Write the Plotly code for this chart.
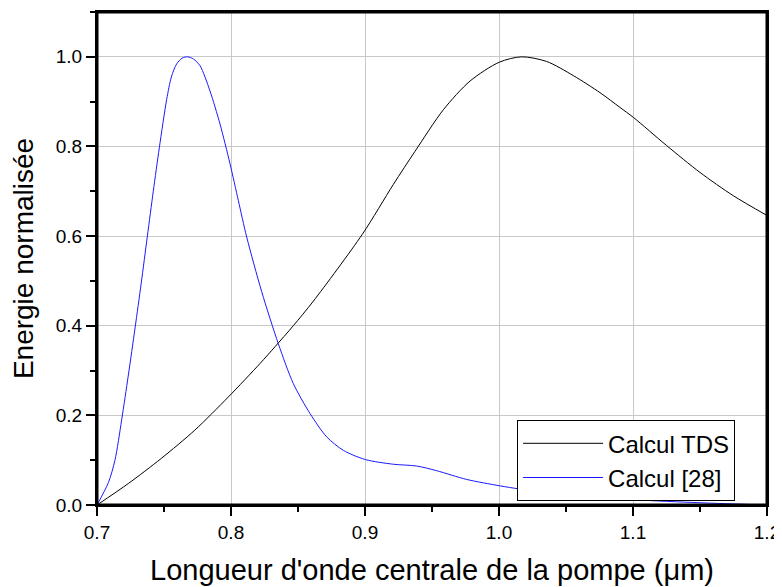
import plotly.graph_objects as go

# Calcul TDS (black)
tds_x = [0.700, 0.7234, 0.748, 0.773, 0.798, 0.8216, 0.8328, 0.8465, 0.8615, 0.8980,
         0.9211, 0.9373, 0.9585, 0.9784, 1.0002, 1.0169, 1.0356, 1.0555, 1.0754, 1.0903,
         1.1002, 1.1251, 1.150, 1.1749, 1.200]
tds_y = [0.0, 0.048, 0.104, 0.167, 0.241, 0.3155, 0.353, 0.400, 0.455, 0.604,
         0.715, 0.789, 0.882, 0.946, 0.988, 1.0, 0.9896, 0.958, 0.920, 0.887,
         0.865, 0.802, 0.742, 0.690, 0.646]

# Calcul [28] (blue)
ref_x = [0.700, 0.7085, 0.7134, 0.7184, 0.7234, 0.7284, 0.7330, 0.7376, 0.7420, 0.7465,
         0.7520, 0.7555, 0.7594, 0.7635, 0.7677, 0.7720, 0.7769, 0.7843, 0.7918, 0.7993,
         0.8055, 0.8117, 0.8229, 0.8353, 0.8465, 0.8590, 0.8714, 0.8838, 0.9002, 0.9211,
         0.9385, 0.9535, 0.9759, 1.0002, 1.0157, 1.050, 1.100, 1.150, 1.200]
ref_y = [0.0, 0.050, 0.100, 0.190, 0.290, 0.395, 0.495, 0.600, 0.700, 0.797,
         0.905, 0.955, 0.984, 0.997, 1.000, 0.995, 0.980, 0.924, 0.850, 0.761,
         0.679, 0.598, 0.476, 0.360, 0.271, 0.204, 0.152, 0.122, 0.1015, 0.091,
         0.087, 0.0765, 0.057, 0.043, 0.0356, 0.024, 0.012, 0.005, 0.0]

x_ticks = [0.7, 0.8, 0.9, 1.0, 1.1, 1.2]
x_labels = ["0.7", "0.8", "0.9", "1.0", "1.1", "1.2"]
y_ticks = [0.0, 0.2, 0.4, 0.6, 0.8, 1.0]
y_labels = ["0.0", "0.2", "0.4", "0.6", "0.8", "1.0"]

FONT = "Liberation Sans, Arial, sans-serif"
W, H = 774, 579  # page body has an 8px default margin

fig = go.Figure()
fig.add_trace(go.Scatter(x=tds_x, y=tds_y, mode="lines", name="Calcul TDS",
                         line=dict(color="black", width=1, shape="spline", smoothing=0.8)))
fig.add_trace(go.Scatter(x=ref_x, y=ref_y, mode="lines", name="Calcul [28]",
                         line=dict(color="#1a1aff", width=1, shape="spline", smoothing=0.8)))

minor_x = dict(ticklen=5, tickwidth=2, tickcolor="black", dtick=0.05, tick0=0.7, showgrid=False)
minor_y = dict(ticklen=5, tickwidth=2, tickcolor="black", dtick=0.1, tick0=0.0, showgrid=False)

common = dict(showline=True, linewidth=2, linecolor="black", mirror=True,
              ticks="outside", ticklen=9, tickwidth=2, tickcolor="black",
              showgrid=True, gridcolor="#c8c8c8", gridwidth=1, zeroline=False,
              automargin=False, tickmode="array",
              tickfont=dict(family=FONT, size=19, color="black"))

fig.update_layout(
    template="none",
    width=W, height=H,
    margin=dict(l=89, r=15, t=4, b=82),
    paper_bgcolor="white", plot_bgcolor="white",
    font=dict(family=FONT, color="black"),
    xaxis=dict(range=[0.7, 1.2], tickvals=x_ticks, ticktext=x_labels, domain=[0, 1],
               minor=dict(ticks="outside", **minor_x),
               title=dict(text="Longueur d'onde centrale de la pompe (\u03bcm)",
                          font=dict(family=FONT, size=29), standoff=18),
               **common),
    yaxis=dict(range=[0, 1.1], tickvals=y_ticks, ticktext=y_labels, domain=[0, 1],
               minor=dict(ticks="outside", **minor_y),
               title=dict(text="Energie normalisée",
                          font=dict(family=FONT, size=28), standoff=14),
               **common),
    # tick-only pair of axes sharing the same area: inward ticks on top and right
    xaxis2=dict(side="top", anchor="y2", domain=[0, 1], range=[0.7, 1.2],
                tickmode="array", tickvals=x_ticks, showticklabels=False,
                ticks="inside", ticklen=9, tickwidth=2, tickcolor="black",
                showgrid=False, zeroline=False, showline=False, automargin=False,
                minor=dict(ticks="inside", **minor_x)),
    yaxis2=dict(side="right", anchor="x2", domain=[0, 1], range=[0, 1.1],
                tickmode="array", tickvals=y_ticks, showticklabels=False,
                ticks="inside", ticklen=9, tickwidth=2, tickcolor="black",
                showgrid=False, zeroline=False, showline=False, automargin=False,
                minor=dict(ticks="inside", **minor_y)),
    legend=dict(x=0.627, y=0.172, xanchor="left", yanchor="top",
                bgcolor="white", bordercolor="black", borderwidth=1,
                font=dict(family=FONT, size=24, color="black"),
                itemwidth=80, tracegroupgap=0),
    shapes=[dict(type="rect", xref="paper", yref="paper", x0=0, x1=1, y0=0, y1=1,
                 line=dict(color="black", width=3), fillcolor="rgba(0,0,0,0)",
                 layer="above")],
    showlegend=True,
)

fig.write_html("out.html", default_width=f"{W}px", default_height=f"{H}px")
